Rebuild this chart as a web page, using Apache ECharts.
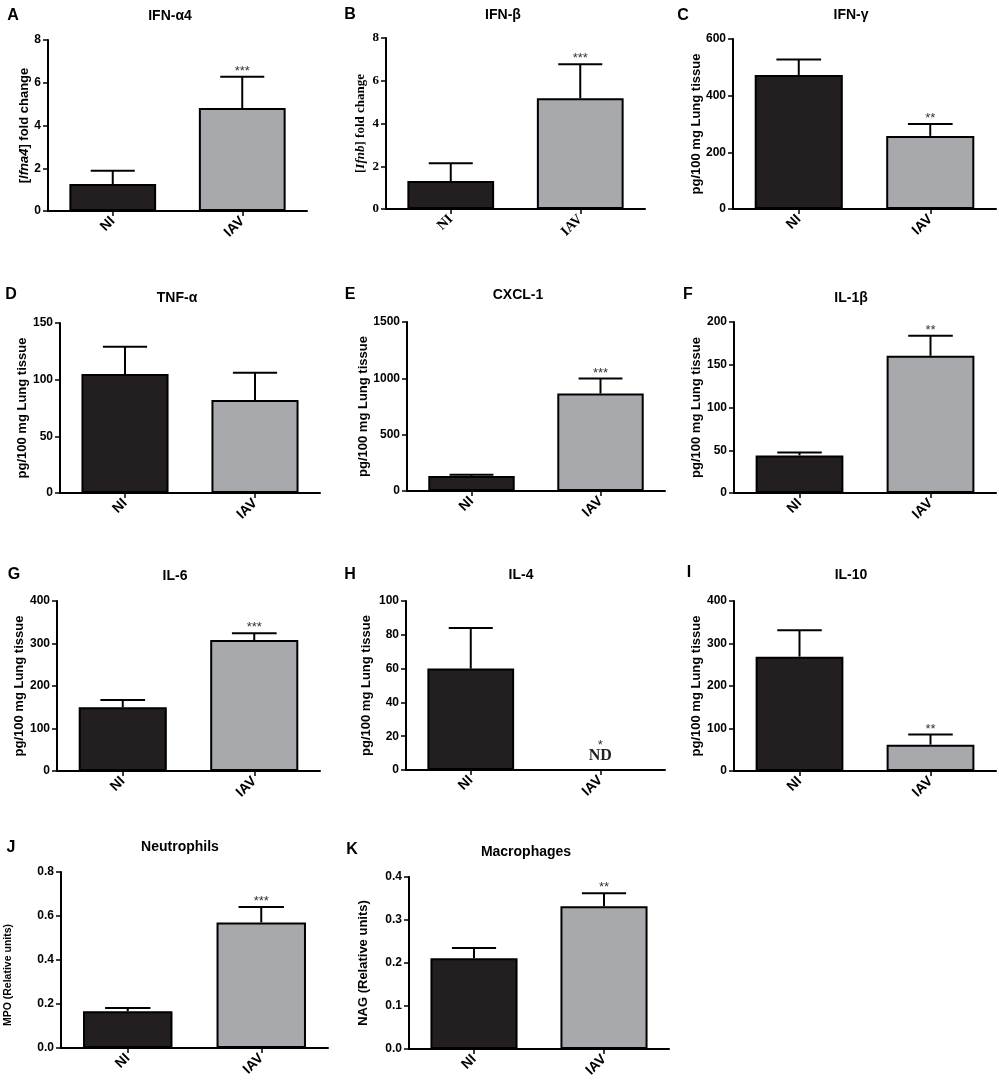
<!DOCTYPE html>
<html>
<head>
<meta charset="utf-8">
<script src="https://cdn.jsdelivr.net/npm/echarts@6/dist/echarts.min.js"></script>
<style>
html,body{margin:0;padding:0;background:#fff;}
#chart{width:999px;height:1085px;}
</style>
</head>
<body>
<div id="chart"></div>
<script>
// ---------------- DATA ----------------
const categories = ['NI', 'IAV'];
const letters = ['A', 'B', 'C', 'D', 'E', 'F', 'G', 'H', 'I', 'J', 'K'];
const titles = ['IFN-α4', 'IFN-β', 'IFN-γ', 'TNF-α', 'CXCL-1', 'IL-1β', 'IL-6', 'IL-4', 'IL-10', 'Neutrophils', 'Macrophages'];
const yNames = [
  '[{i|Ifna4}] fold change',
  '[{i|Ifnb}] fold change',
  'pg/100 mg Lung tissue',
  'pg/100 mg Lung tissue',
  'pg/100 mg Lung tissue',
  'pg/100 mg Lung tissue',
  'pg/100 mg Lung tissue',
  'pg/100 mg Lung tissue',
  'pg/100 mg Lung tissue',
  'MPO (Relative units)',
  'NAG (Relative units)'
];
const yMax = [8, 8, 600, 150, 1500, 200, 400, 100, 400, 0.8, 0.4];
const yInterval = [2, 2, 200, 50, 500, 50, 100, 20, 100, 0.2, 0.1];
const yDecimals = [0, 0, 0, 0, 0, 0, 0, 0, 0, 1, 1];
// mean values
const meanNI  = [1.26, 1.31, 473, 105, 133, 44, 150, 60, 269, 0.167, 0.211];
const meanIAV = [4.82, 5.18, 258, 82, 865, 160.5, 308, null, 62, 0.571, 0.332];
// top of error bars (mean + SEM)
const errNI  = [1.88, 2.14, 528, 129, 145, 47.4, 167, 84, 331, 0.182, 0.235];
const errIAV = [6.28, 6.77, 300, 106, 998, 184, 324, null, 85.7, 0.641, 0.362];
// significance marks on IAV bars
const starsIAV = ['***', '***', '**', '', '***', '**', '***', '*', '**', '***', '**'];
const notesIAV = ['', '', '', '', '', '', '', 'ND', '', '', ''];

// ---------------- LAYOUT ----------------
const gridRects = [
  [48, 40, 259, 171], [386, 38, 259, 171], [733, 39, 263, 170],
  [60, 323, 260, 170], [407, 322, 258, 169], [734, 322, 262, 171],
  [57, 601, 263, 170], [406, 601, 259, 169], [734, 601, 262, 170],
  [61, 872, 267, 176], [409, 877, 260, 172]
];
const titlePos = [
  [170, 16], [503, 15], [851, 15],
  [177, 298], [518, 295], [851, 298],
  [175, 576], [521, 575], [851, 575],
  [180, 847], [526, 852]
];
const letterPos = [
  [13, 16], [350, 15], [683, 16],
  [11, 295], [350, 295], [688, 295],
  [14, 575], [350, 575], [689, 573],
  [11, 848], [352, 850]
];
const nameGaps = [17, 19, 30, 31, 37, 31, 31, 33, 31, 47, 39];
const nameSizes = [13, 13, 13, 13, 13, 13, 13, 13, 13, 10.5, 13];
const namePads = [0, 0, 0, 0, 0, 0, 0, 0, 0, 30, 0];

const SANS = '"Liberation Sans", Arial, sans-serif';
const SERIF = '"Liberation Serif", "Times New Roman", serif';
const DARK = '#231f20';
const GRAY = '#a7a9ac';

const chart = echarts.init(document.getElementById('chart'));

const grids = [], xAxes = [], yAxes = [], series = [], graphics = [];

for (let p = 0; p < letters.length; p++) {
  const r = gridRects[p];
  const serif = (p === 1);
  const fam = serif ? SERIF : SANS;
  const tickSize = serif ? 13 : 12;
  grids.push({left: r[0], top: r[1], width: r[2], height: r[3], containLabel: false, outerBoundsMode: 'none'});
  xAxes.push({
    type: 'category', gridIndex: p, data: categories,
    axisLine: {show: true, lineStyle: {color: '#000', width: 2}},
    axisTick: {show: true, alignWithLabel: true, length: 5, lineStyle: {color: '#000', width: 1.5}},
    axisLabel: {rotate: 45, margin: 8, color: '#000', fontWeight: 'bold', fontSize: 14, fontFamily: fam, interval: 0},
    splitLine: {show: false}
  });
  const dec = yDecimals[p];
  const ns = nameSizes[p];
  yAxes.push({
    type: 'value', gridIndex: p, min: 0, max: yMax[p], interval: yInterval[p],
    name: yNames[p], nameLocation: 'middle', nameRotate: 90, nameGap: nameGaps[p],
    nameMoveOverlap: false,
    nameTextStyle: {
      color: '#000', fontWeight: 'bold', fontSize: ns, fontFamily: fam,
      padding: [0, namePads[p], 0, 0],
      rich: {i: {fontStyle: 'italic', fontWeight: 'bold', fontSize: ns, fontFamily: fam, color: '#000'}}
    },
    axisLine: {show: true, lineStyle: {color: '#000', width: 2}},
    axisTick: {show: true, length: 5, lineStyle: {color: '#000', width: 1.5}},
    axisLabel: {color: '#000', fontWeight: 'bold', fontSize: tickSize, fontFamily: fam, margin: 7,
      formatter: v => Number(v).toFixed(dec)},
    splitLine: {show: false}
  });
  series.push({
    type: 'bar', xAxisIndex: p, yAxisIndex: p, barWidth: '67%',
    data: [
      {value: meanNI[p], itemStyle: {color: DARK, borderColor: '#000', borderWidth: 2}},
      {value: meanIAV[p] == null ? '-' : meanIAV[p], itemStyle: {color: GRAY, borderColor: '#000', borderWidth: 2}}
    ],
    silent: true, z: 2
  });
  const pi = p;
  series.push({
    type: 'custom', xAxisIndex: p, yAxisIndex: p, z: 3, silent: true,
    data: [
      [0, meanNI[p], errNI[p]],
      [1, meanIAV[p] == null ? 0 : meanIAV[p], errIAV[p] == null ? 0 : errIAV[p]]
    ],
    renderItem: function (params, api) {
      const ci = api.value(0);
      const m = api.value(1), e = api.value(2);
      const p0 = api.coord([ci, m]);
      const p1 = api.coord([ci, e]);
      const bw = api.size([1, 0])[0];
      const half = bw * 0.17;
      const children = [];
      const note = ci === 1 ? notesIAV[pi] : '';
      const star = ci === 1 ? starsIAV[pi] : '';
      if (!note) {
        children.push({type: 'line', shape: {x1: p0[0], y1: p0[1], x2: p1[0], y2: p1[1]},
          style: {stroke: '#000', lineWidth: 2}});
        children.push({type: 'line', shape: {x1: p1[0] - half, y1: p1[1], x2: p1[0] + half, y2: p1[1]},
          style: {stroke: '#000', lineWidth: 2}});
        if (star) {
          children.push({type: 'text', style: {text: star, x: p1[0], y: p1[1] + 1, align: 'center',
            verticalAlign: 'bottom', fill: '#333', font: '13px ' + SANS}});
        }
      } else {
        children.push({type: 'text', style: {text: note, x: p0[0], y: p0[1] - 6, align: 'center',
          verticalAlign: 'bottom', fill: '#222', font: 'bold 16px ' + SERIF}});
        if (star) {
          children.push({type: 'text', style: {text: star, x: p0[0], y: p0[1] - 18, align: 'center',
            verticalAlign: 'bottom', fill: '#333', font: '13px ' + SANS}});
        }
      }
      return {type: 'group', children: children};
    }
  });
  graphics.push({type: 'text', x: titlePos[p][0], y: titlePos[p][1],
    style: {text: titles[p], align: 'center', verticalAlign: 'middle', fill: '#000', font: 'bold 14px ' + SANS}});
  graphics.push({type: 'text', x: letterPos[p][0], y: letterPos[p][1],
    style: {text: letters[p], align: 'center', verticalAlign: 'middle', fill: '#000', font: 'bold 16px ' + SANS}});
}

chart.setOption({
  animation: false,
  backgroundColor: '#fff',
  grid: grids,
  xAxis: xAxes,
  yAxis: yAxes,
  series: series,
  graphic: graphics
});
</script>
</body>
</html>
